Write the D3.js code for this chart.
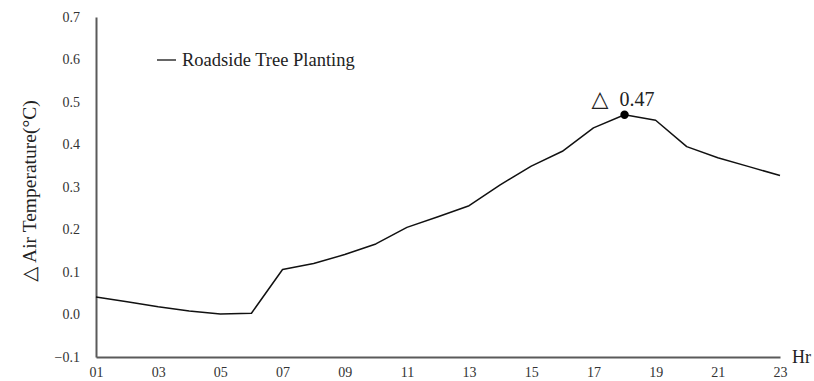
<!DOCTYPE html>
<html>
<head>
<meta charset="utf-8">
<script src="https://cdn.jsdelivr.net/npm/d3@7"></script>
<style>
  html, body { margin: 0; padding: 0; background: #fff; }
  svg { display: block; }
  svg text { font-family: "Liberation Serif", "DejaVu Serif", serif; }
</style>
</head>
<body>
<svg id="chart" width="814" height="381"></svg>
<script>
// Hourly air-temperature reduction from roadside tree planting
const hours = [1, 2, 3, 4, 5, 6, 7, 8, 9, 10, 11, 12, 13, 14, 15, 16, 17, 18, 19, 20, 21, 22, 23];
const deltaTemp = [0.041, 0.030, 0.018, 0.008, 0.001, 0.003, 0.106, 0.120, 0.141, 0.166, 0.205,
                   0.230, 0.256, 0.305, 0.349, 0.384, 0.439, 0.47, 0.457, 0.395, 0.369, 0.348, 0.327];
const xTickHours = [1, 3, 5, 7, 9, 11, 13, 15, 17, 19, 21, 23];
const yTicks = [-0.1, 0.0, 0.1, 0.2, 0.3, 0.4, 0.5, 0.6, 0.7];
const seriesName = "Roadside Tree Planting";
const peakHour = 18;
const peakValue = 0.47;

const svg = d3.select("#chart");

const x = d3.scaleLinear().domain([1, 23]).range([96, 780]);
const y = d3.scaleLinear().domain([-0.1, 0.7]).range([357, 17]);

const axisColor = "#5a5a5a";
const serif = "'Liberation Serif', 'DejaVu Serif', serif";

// y axis
const yAxis = svg.append("g")
  .attr("transform", `translate(${x(1)},0)`)
  .call(d3.axisLeft(y).tickValues(yTicks).tickSize(0).tickPadding(16)
    .tickFormat(d => d < 0 ? "\u2212" + Math.abs(d).toFixed(1) : d.toFixed(1)));
yAxis.attr("font-family", null);
yAxis.select(".domain").attr("stroke", axisColor).attr("stroke-width", 2);
yAxis.selectAll("text").attr("font-size", 14).attr("fill", "#333")
  .style("font-family", serif);

// x axis
const xAxis = svg.append("g")
  .attr("transform", `translate(0,${y(-0.1)})`)
  .call(d3.axisBottom(x).tickValues(xTickHours).tickSize(0).tickPadding(10)
    .tickFormat(d => String(d).padStart(2, "0")));
xAxis.attr("font-family", null);
xAxis.select(".domain").attr("stroke", axisColor).attr("stroke-width", 2);
xAxis.selectAll("text").attr("font-size", 14).attr("fill", "#333")
  .style("font-family", serif);

// axis titles
svg.append("text")
  .attr("transform", `translate(36,${(y(-0.1) + y(0.7)) / 2 + 4}) rotate(-90)`)
  .attr("text-anchor", "middle")
  .attr("font-size", 19.5)
  .attr("fill", "#222")
  .text("\u25B3 Air Temperature(\u00B0C)");

svg.append("text")
  .attr("x", 792)
  .attr("y", 363)
  .attr("font-size", 18)
  .attr("fill", "#222")
  .text("Hr");

// data line
const line = d3.line()
  .x((d, i) => x(hours[i]))
  .y(d => y(d));

svg.append("path")
  .datum(deltaTemp)
  .attr("fill", "none")
  .attr("stroke", "#111")
  .attr("stroke-width", 1.5)
  .attr("stroke-linejoin", "round")
  .attr("d", line);

// peak marker and label
svg.append("circle")
  .attr("cx", x(peakHour))
  .attr("cy", y(peakValue))
  .attr("r", 4.2)
  .attr("fill", "#000");

svg.append("text")
  .attr("x", x(peakHour) - 33)
  .attr("y", y(peakValue) - 9)
  .attr("font-size", 22)
  .attr("fill", "#222")
  .text("\u25B3");

svg.append("text")
  .attr("x", x(peakHour) - 5)
  .attr("y", y(peakValue) - 9)
  .attr("font-size", 20)
  .attr("fill", "#222")
  .text(peakValue.toFixed(2));

// legend
const legend = svg.append("g").attr("transform", "translate(157,60)");
legend.append("line")
  .attr("x1", 0).attr("x2", 19)
  .attr("y1", 0).attr("y2", 0)
  .attr("stroke", "#333").attr("stroke-width", 1.5);
legend.append("text")
  .attr("x", 25)
  .attr("y", 6)
  .attr("font-size", 18.5)
  .attr("fill", "#222")
  .text(seriesName);
</script>
</body>
</html>
